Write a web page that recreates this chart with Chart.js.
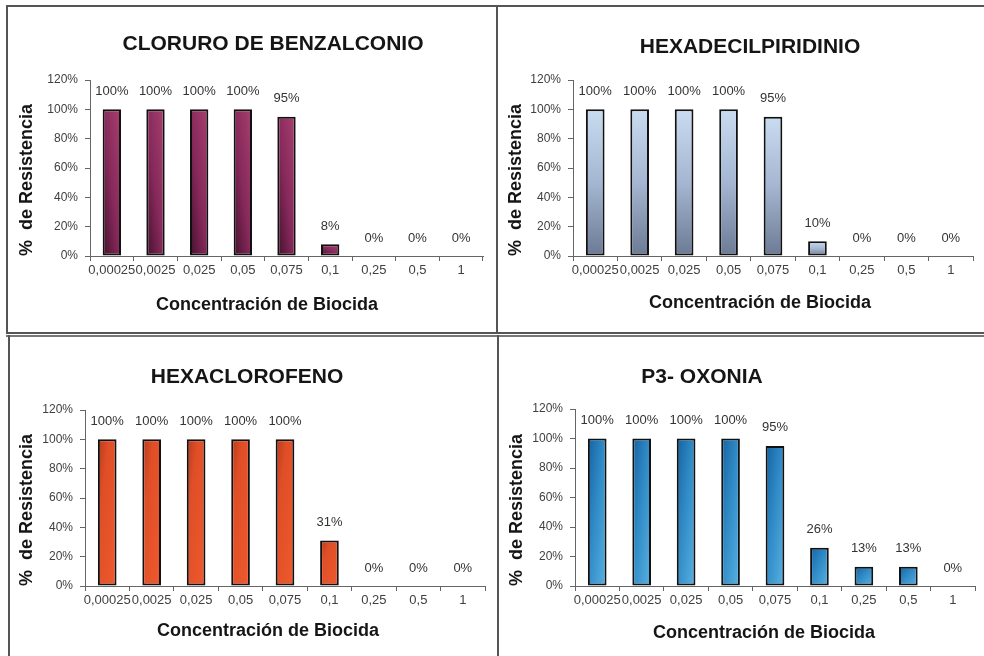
<!DOCTYPE html>
<html>
<head>
<meta charset="utf-8">
<script src="https://cdn.jsdelivr.net/npm/chart.js@4.4.1/dist/chart.umd.min.js"></script>
<style>
  html, body { margin: 0; padding: 0; background: #fff; width: 984px; height: 656px; overflow: hidden; }
  canvas { position: absolute; }
  .rule { position: absolute; background: #555; z-index: 2; }
</style>
</head>
<body>
<!-- frame lines around the four panels -->
<div class="rule" style="left:6px;top:5px;width:978px;height:2px;"></div>
<div class="rule" style="left:6px;top:5px;width:2px;height:329px;"></div>
<div class="rule" style="left:496px;top:5px;width:2px;height:329px;"></div>
<div class="rule" style="left:6px;top:332px;width:978px;height:2px;"></div>
<div class="rule" style="left:6px;top:335px;width:978px;height:2px;background:#777;"></div>
<div class="rule" style="left:8px;top:335px;width:2px;height:321px;"></div>
<div class="rule" style="left:497px;top:335px;width:2px;height:321px;"></div>

<canvas id="c1" width="488" height="325" style="left:8px;top:7px;"></canvas>
<canvas id="c2" width="485" height="325" style="left:499px;top:7px;"></canvas>
<canvas id="c3" width="486" height="318" style="left:10px;top:338px;"></canvas>
<canvas id="c4" width="484" height="318" style="left:500px;top:338px;"></canvas>

<script>
// Biocide concentrations (x categories)
const concentrations = ['0,00025', '0,0025', '0,025', '0,05', '0,075', '0,1', '0,25', '0,5', '1'];

// % resistance per biocide
const benzalconio        = [100, 100, 100, 100, 95, 8, 0, 0, 0];
const hexadecilpiridinio = [100, 100, 100, 100, 95, 10, 0, 0, 0];
const hexaclorofeno      = [100, 100, 100, 100, 100, 31, 0, 0, 0];
const oxonia             = [100, 100, 100, 100, 95, 26, 13, 13, 0];

// y axis ticks (percent)
const yTicks = [0, 20, 40, 60, 80, 100, 120];

const FONT = '"Liberation Sans", Arial, Helvetica, sans-serif';
const BAR_PCT = 0.42;

// Gradient styles for the bars
const shades = {
  maroon: { dir: 'diagUp',   stops: [[0, '#43112b'], [0.45, '#84285a'], [1, '#a8406f']] },
  steel:  { dir: 'vertical', stops: [[0, '#cadcf1'], [0.5, '#a4b6d1'], [1, '#6c7a94']] },
  orange: { dir: 'diagDown', stops: [[0, '#b63a1b'], [0.3, '#df4e27'], [1, '#ef5a2d']] },
  azure:  { dir: 'diagDown', stops: [[0, '#1563a0'], [0.45, '#2f8ac6'], [1, '#5ab2e2']] }
};

function paint(c, shadeName) {
  const shade = shades[shadeName];
  const chart = c.chart;
  const xs = chart.scales.x, ys = chart.scales.y;
  if (!xs || !ys || c.dataIndex === undefined || !chart.chartArea) return shade.stops[1][1];
  const cx = xs.getPixelForValue(c.dataIndex);
  const w = (xs.width / concentrations.length) * BAR_PCT;
  const t = ys.getPixelForValue(c.raw), b = ys.getPixelForValue(0);
  const h = b - t;
  if (!(h > 0) || !(w > 0)) return shade.stops[1][1];
  const cy = (t + b) / 2;
  let g;
  if (shade.dir === 'vertical') {
    g = chart.ctx.createLinearGradient(cx, t, cx, b);
  } else {
    const k = (w * h) / (w * w + h * h);
    if (shade.dir === 'diagUp') {
      g = chart.ctx.createLinearGradient(cx - k * h, cy + k * w, cx + k * h, cy - k * w);
    } else {
      g = chart.ctx.createLinearGradient(cx - k * h, cy - k * w, cx + k * h, cy + k * w);
    }
  }
  shade.stops.forEach(s => g.addColorStop(s[0], s[1]));
  return g;
}

// Value labels above the bars, plus the chart heading and x-axis caption
const annotate = {
  id: 'annotate',
  afterDatasetsDraw(chart) {
    const ctx = chart.ctx;
    const meta = chart.getDatasetMeta(0);
    const values = chart.data.datasets[0].data;
    ctx.save();
    ctx.font = '13px ' + FONT;
    ctx.fillStyle = '#333333';
    ctx.textAlign = 'center';
    ctx.textBaseline = 'middle';
    meta.data.forEach((bar, i) => {
      ctx.fillText(values[i] + '%', bar.x, bar.y - 18);
    });
    ctx.restore();
  },
  afterDraw(chart, args, opts) {
    const ctx = chart.ctx;
    ctx.save();
    ctx.fillStyle = '#151515';
    ctx.textAlign = 'center';
    ctx.textBaseline = 'middle';
    ctx.font = 'bold 21px ' + FONT;
    ctx.fillText(opts.heading, opts.headingAt[0], opts.headingAt[1]);
    ctx.font = 'bold 18px ' + FONT;
    ctx.fillText(opts.caption, opts.captionAt[0], opts.captionAt[1]);
    ctx.restore();
  }
};

const panels = [
  { id: 'c1', heading: 'CLORURO DE BENZALCONIO', values: benzalconio, shade: 'maroon',
    box: { x: 8, y: 7, w: 488, h: 325 }, plot: { l: 90, r: 483, t: 80, b: 256 },
    head: [273, 44], cap: [267, 305], yTitleX: 27 },
  { id: 'c2', heading: 'HEXADECILPIRIDINIO', values: hexadecilpiridinio, shade: 'steel',
    box: { x: 499, y: 7, w: 485, h: 325 }, plot: { l: 573, r: 973, t: 80, b: 256 },
    head: [750, 47], cap: [760, 303], yTitleX: 516 },
  { id: 'c3', heading: 'HEXACLOROFENO', values: hexaclorofeno, shade: 'orange',
    box: { x: 10, y: 338, w: 486, h: 318 }, plot: { l: 85, r: 485, t: 410, b: 586 },
    head: [247, 377], cap: [268, 631], yTitleX: 27 },
  { id: 'c4', heading: 'P3- OXONIA', values: oxonia, shade: 'azure',
    box: { x: 500, y: 338, w: 484, h: 318 }, plot: { l: 575, r: 975, t: 409, b: 586 },
    head: [702, 377], cap: [764, 633], yTitleX: 517 }
];

panels.forEach(p => {
  new Chart(document.getElementById(p.id), {
    type: 'bar',
    data: {
      labels: concentrations,
      datasets: [{
        data: p.values,
        backgroundColor: c => paint(c, p.shade),
        borderColor: '#111111',
        borderWidth: 2,
        borderSkipped: false,
        barPercentage: BAR_PCT,
        categoryPercentage: 1
      }]
    },
    options: {
      responsive: false,
      animation: false,
      devicePixelRatio: 1,
      layout: {
        padding: {
          left: 0,
          top: p.plot.t - p.box.y,
          right: p.box.x + p.box.w - p.plot.r,
          bottom: 0
        }
      },
      plugins: {
        legend: { display: false },
        tooltip: { enabled: false },
        annotate: {
          heading: p.heading,
          headingAt: [p.head[0] - p.box.x, p.head[1] - p.box.y],
          caption: 'Concentración de Biocida',
          captionAt: [p.cap[0] - p.box.x, p.cap[1] - p.box.y]
        }
      },
      scales: {
        x: {
          offset: true,
          grid: { display: true, offset: true, drawOnChartArea: false, drawTicks: true, tickLength: 5, color: '#666666' },
          border: { display: true, color: '#666666', width: 1 },
          ticks: { autoSkip: false, maxRotation: 0, minRotation: 0, padding: 2, color: '#404040', font: { family: FONT, size: 13 } },
          afterFit: s => { s.height = p.box.y + p.box.h - p.plot.b; }
        },
        y: {
          min: yTicks[0],
          max: yTicks[yTicks.length - 1],
          grid: { display: true, drawOnChartArea: false, drawTicks: true, tickLength: 5, color: '#666666' },
          border: { display: true, color: '#666666', width: 1 },
          ticks: {
            stepSize: yTicks[1] - yTicks[0],
            padding: 7,
            color: '#404040',
            font: { family: FONT, size: 12 },
            callback: v => v + '%'
          },
          title: {
            display: true,
            text: '%  de Resistencia',
            align: 'start',
            color: '#151515',
            font: { family: FONT, size: 18, weight: 'bold' },
            padding: { top: p.yTitleX - p.box.x - 10.8, bottom: 0 }
          },
          afterFit: s => { s.width = p.plot.l - p.box.x; }
        }
      }
    },
    plugins: [annotate]
  });
});
</script>
</body>
</html>
